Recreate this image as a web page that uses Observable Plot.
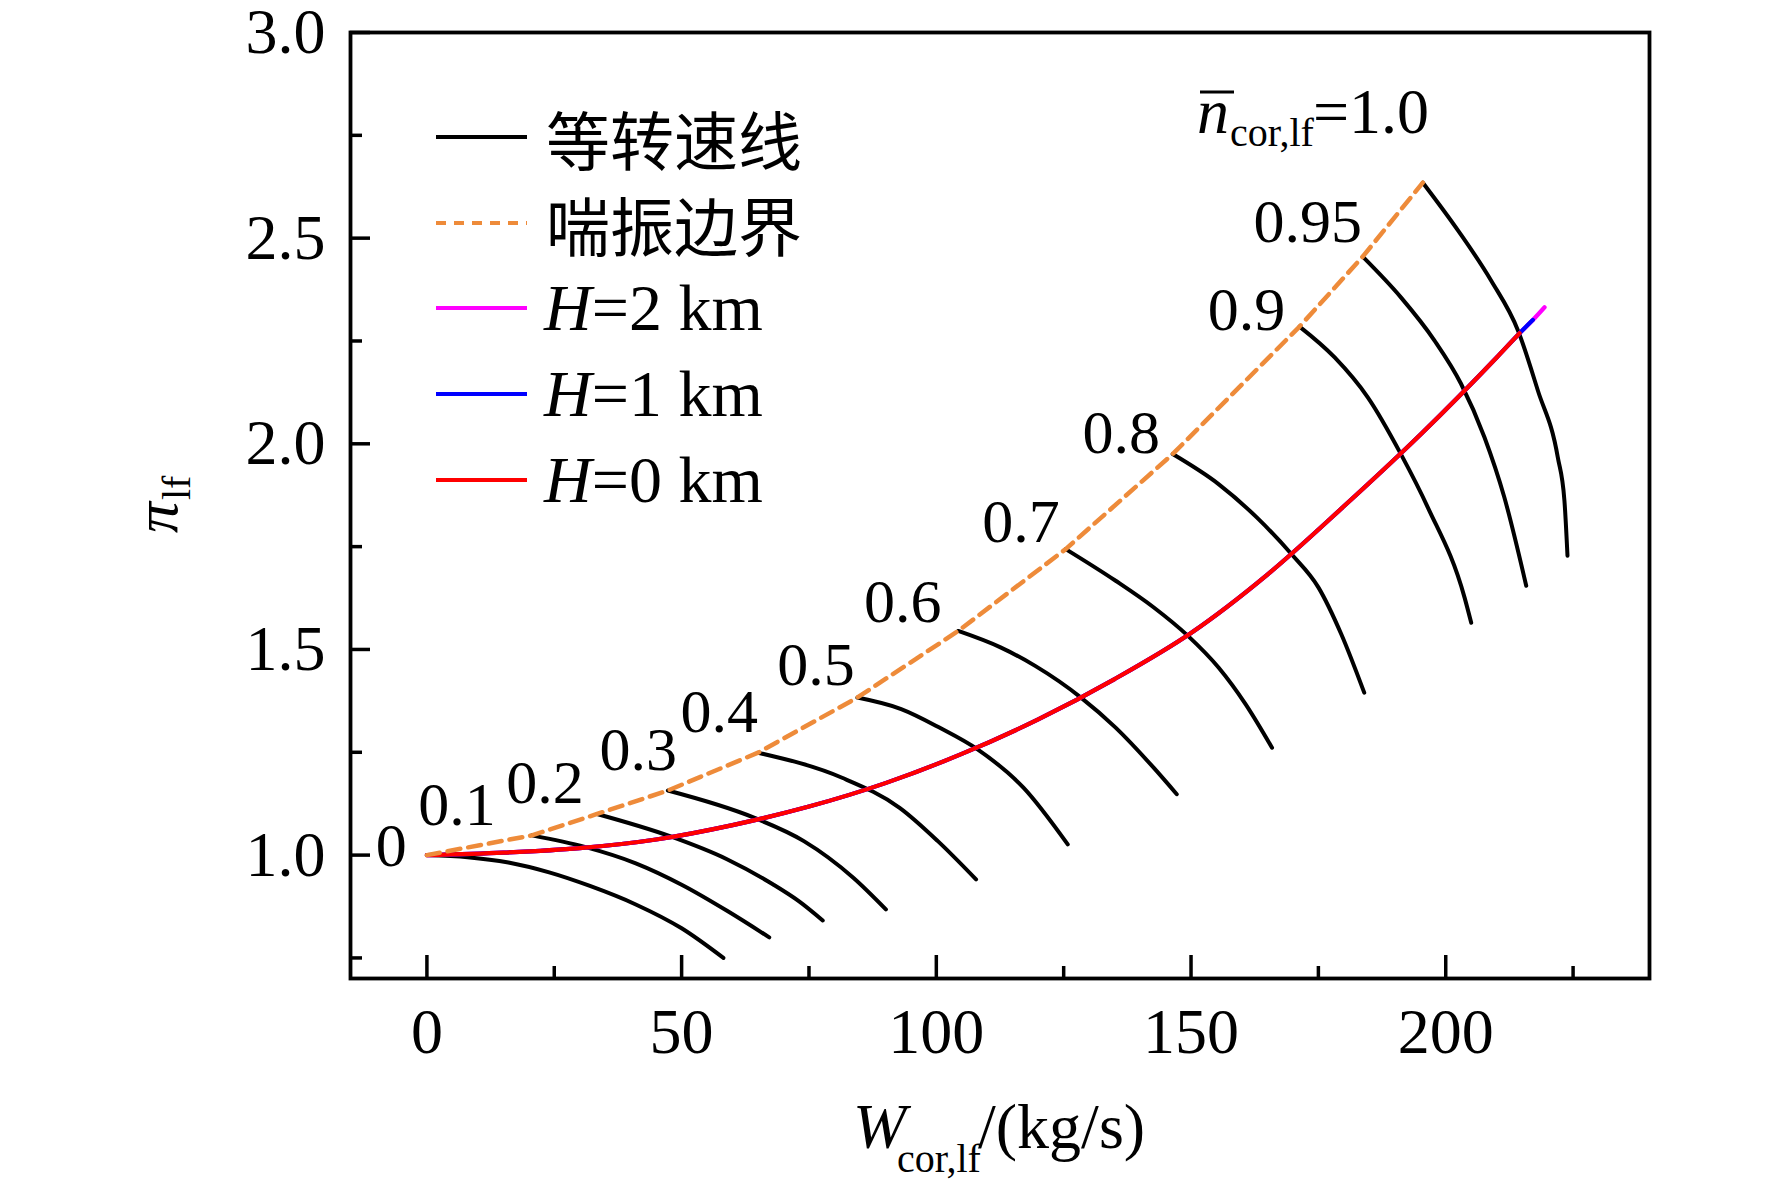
<!DOCTYPE html>
<html>
<head>
<meta charset="utf-8">
<script src="https://cdn.jsdelivr.net/npm/d3@7"></script>
<script src="https://cdn.jsdelivr.net/npm/@observablehq/plot@0.6"></script>
<style>
  html, body { margin: 0; padding: 0; background: #fff; }
  #chart svg { display: block; }
</style>
</head>
<body>
<div id="chart"></div>
<script>
// ---- data ----
const speedLabels = ["0","0.1","0.2","0.3","0.4","0.5","0.6","0.7","0.8","0.9","0.95","1.0"];
const speedW = [
  [0, 8, 16, 24, 32, 41, 50, 58.2],
  [20.6, 31, 41, 50, 59, 67.2],
  [33.4, 47.7, 58.9, 67.9, 73, 77.7],
  [47.3, 64.2, 74.0, 83.7, 90.1],
  [65.0, 81.5, 92.8, 100.3, 107.8],
  [84.5, 93.1, 100.6, 108.1, 117.1, 125.8],
  [104.3, 112.6, 119.4, 128.4, 135.2, 142.7, 147.2],
  [125.4, 135.2, 142.7, 149.4, 155.4, 160.7, 165.9],
  [146.4, 155.4, 162.9, 169.7, 175.0, 179.5, 184.0],
  [171.3, 178.2, 184.7, 191.2, 196.5, 203.7, 205.0],
  [183.7, 191.2, 197.8, 203.0, 207.6, 211.5, 215.8],
  [195.5, 202.4, 208.9, 214.2, 218.1, 222.0, 223.3, 223.9]
];
const speedPi = [
  [1.0, 0.995, 0.982, 0.958, 0.925, 0.880, 0.822, 0.750],
  [1.048, 1.020, 0.980, 0.928, 0.864, 0.800],
  [1.100, 1.046, 0.990, 0.929, 0.888, 0.841],
  [1.157, 1.091, 1.034, 0.945, 0.868],
  [1.249, 1.188, 1.115, 1.034, 0.941],
  [1.383, 1.355, 1.310, 1.257, 1.164, 1.026],
  [1.545, 1.505, 1.460, 1.383, 1.310, 1.212, 1.148],
  [1.744, 1.667, 1.602, 1.533, 1.456, 1.367, 1.261],
  [1.975, 1.902, 1.821, 1.732, 1.651, 1.537, 1.395],
  [2.285, 2.210, 2.113, 1.975, 1.845, 1.626, 1.565],
  [2.455, 2.356, 2.251, 2.146, 2.016, 1.870, 1.655],
  [2.635, 2.519, 2.397, 2.275, 2.129, 1.967, 1.862, 1.728]
];
const surgeW  = [0, 20.6, 33.4, 47.3, 65.0, 84.5, 104.3, 125.4, 146.4, 171.3, 183.7, 195.5];
const surgePi = [1.0, 1.048, 1.100, 1.157, 1.249, 1.383, 1.545, 1.744, 1.975, 2.285, 2.455, 2.635];
const h0W  = [0, 15, 30, 45, 60, 75, 90, 105, 120, 135, 150, 165, 180, 195, 210, 214.5];
const h0Pi = [1.0, 1.006, 1.017, 1.038, 1.073, 1.118, 1.175, 1.246, 1.330, 1.428, 1.540, 1.682, 1.848, 2.022, 2.210, 2.269];
const h1W  = [...h0W, 217.1];
const h1Pi = [...h0Pi, 2.301];
const h2W  = [...h1W, 219.4];
const h2Pi = [...h1Pi, 2.332];
// speed-label anchor positions (data space)
const labelText = ["0","0.1","0.2","0.3","0.4","0.5","0.6","0.7","0.8","0.9","0.95"];
const labelW  = [-7.0, 5.9, 23.2, 41.5, 57.4, 76.4, 93.4, 116.6, 136.3, 160.9, 172.9];
const labelPi = [1.022, 1.122, 1.174, 1.255, 1.348, 1.462, 1.615, 1.809, 2.026, 2.324, 2.539];
const xMajorTicks = [0, 50, 100, 150, 200];
const xMinorTicks = [25, 75, 125, 175, 225];
const yMajorTicks = [1.0, 1.5, 2.0, 2.5, 3.0];
const yMinorTicks = [0.75, 1.25, 1.75, 2.25, 2.75];
const legendLabels = ["等转速线", "喘振边界", "H=2 km", "H=1 km", "H=0 km"];

// ---- tables ----
const speedTable = speedLabels.flatMap((n, i) => speedW[i].map((w, j) => ({n, w, pi: speedPi[i][j]})));
const toRows = (W, P) => W.map((w, i) => ({w, pi: P[i]}));
const surge = toRows(surgeW, surgePi);
const h0 = toRows(h0W, h0Pi), h1 = toRows(h1W, h1Pi), h2 = toRows(h2W, h2Pi);
const labels = labelText.map((t, i) => ({t, w: labelW[i], pi: labelPi[i]}));

const W = 1772, H = 1185;
const mL = 350, mR = 123, mT = 32, mB = 207;
const fw = W - mL - mR, fh = H - mT - mB;
const SERIF = "'Liberation Serif', 'Times New Roman', serif";
const ORANGE = "#EE8B3A";

const chart = Plot.plot({
  width: W, height: H,
  marginLeft: mL, marginRight: mR, marginTop: mT, marginBottom: mB,
  style: {fontFamily: SERIF, fontSize: "64px", background: "#fff", color: "#000"},
  x: {domain: [-15, 240], ticks: xMajorTicks, tickSize: 0, tickPadding: 29, label: null},
  y: {domain: [0.7, 3.0], ticks: yMajorTicks, tickFormat: d => d.toFixed(1), tickSize: 0, tickPadding: 25, label: null},
  marks: [
    Plot.line(speedTable, {x: "w", y: "pi", z: "n", stroke: "#000", strokeWidth: 4, curve: "monotone-x"}),
    Plot.line(h2, {x: "w", y: "pi", stroke: "#ff00ff", strokeWidth: 4.2, curve: "monotone-x"}),
    Plot.line(h1, {x: "w", y: "pi", stroke: "#0000ff", strokeWidth: 4.2, curve: "monotone-x"}),
    Plot.line(h0, {x: "w", y: "pi", stroke: "#ff0000", strokeWidth: 4.2, curve: "monotone-x"}),
    Plot.line(surge, {x: "w", y: "pi", stroke: ORANGE, strokeWidth: 4.5, strokeDasharray: "13,8"}),
    Plot.text(labels, {x: "w", y: "pi", text: "t", fontSize: 62, fontFamily: SERIF, fill: "#000", textAnchor: "middle", lineAnchor: "middle"}),
    Plot.tickX(xMajorTicks, {x: d => d, stroke: "#000", strokeWidth: 3.5, insetTop: fh - 23}),
    Plot.tickX(xMinorTicks, {x: d => d, stroke: "#000", strokeWidth: 3.5, insetTop: fh - 12}),
    Plot.tickY(yMajorTicks, {y: d => d, stroke: "#000", strokeWidth: 3.5, insetRight: fw - 20}),
    Plot.tickY(yMinorTicks, {y: d => d, stroke: "#000", strokeWidth: 3.5, insetRight: fw - 12}),
    Plot.frame({stroke: "#000", strokeWidth: 3.8})
  ]
});
document.getElementById("chart").appendChild(chart);

// ---- rich text annotations, legend ----
const svg = d3.select(chart);
const g = svg.append("g").attr("font-family", SERIF).attr("fill", "#000").attr("text-anchor", "start");

// top label  n̄_cor,lf = 1.0
const t1 = g.append("text").attr("x", 1197).attr("y", 133).attr("font-size", 64);
t1.append("tspan").attr("font-style", "italic").text("n");
t1.append("tspan").attr("x", 1230).attr("dy", 13).attr("font-size", 40).text("cor,lf");
t1.append("tspan").attr("x", 1313).attr("dy", -13).text("=1.0");
g.append("line").attr("x1", 1200).attr("x2", 1234).attr("y1", 92).attr("y2", 92).attr("stroke", "#000").attr("stroke-width", 3);

// x-axis label
const xl = g.append("text").attr("x", 853).attr("y", 1148).attr("font-size", 64);
xl.append("tspan").attr("font-style", "italic").text("W");
xl.append("tspan").attr("x", 897).attr("dy", 24).attr("font-size", 40).text("cor,lf");
xl.append("tspan").attr("x", 978).attr("dy", -24).text("/(kg/s)");

// y-axis label
const yl = g.append("text").attr("transform", "translate(177,533) rotate(-90)").attr("font-size", 62);
yl.append("tspan").attr("font-style", "italic").text("π");
yl.append("tspan").attr("x", 33).attr("dy", 13).attr("font-size", 40).text("lf");

// legend
const rowsY = [137, 223, 308, 394, 480];
const swatch = [
  {stroke: "#000", dash: null},
  {stroke: ORANGE, dash: "10,8"},
  {stroke: "#ff00ff", dash: null},
  {stroke: "#0000ff", dash: null},
  {stroke: "#ff0000", dash: null}
];
legendLabels.forEach((lab, i) => {
  const y = rowsY[i];
  const ln = g.append("line").attr("x1", 436).attr("x2", 527).attr("y1", y).attr("y2", y)
    .attr("stroke", swatch[i].stroke).attr("stroke-width", 4.2);
  if (swatch[i].dash) ln.attr("stroke-dasharray", swatch[i].dash);
  if (i < 2) {
    g.append("text").attr("x", 546).attr("y", y).attr("dominant-baseline", "central")
      .attr("font-family", "'Noto Sans CJK SC', sans-serif").attr("font-size", 64).text(lab);
  } else {
    const tx = g.append("text").attr("x", 544).attr("y", y + 22).attr("font-size", 66);
    tx.append("tspan").attr("font-style", "italic").text(lab.slice(0, 1));
    tx.append("tspan").text(lab.slice(1));
  }
});
</script>
</body>
</html>
